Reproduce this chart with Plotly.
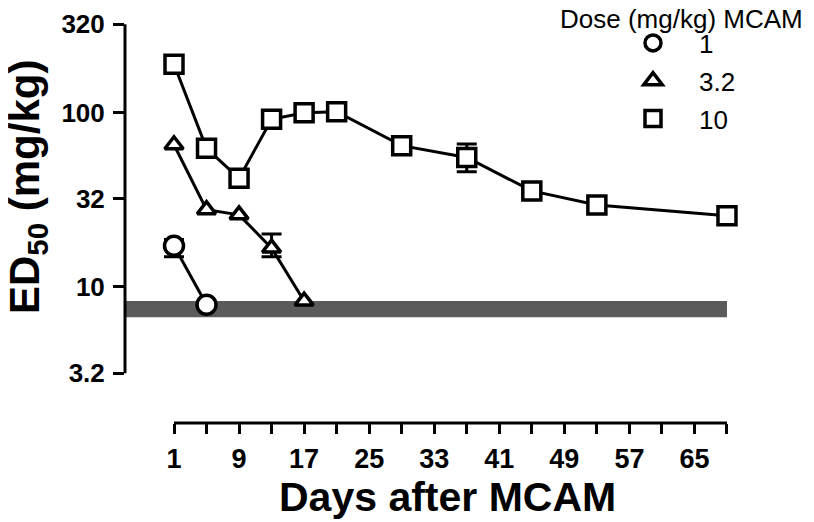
import plotly.graph_objects as go

# ---------------- data ----------------
days_1 = [1, 5]
ed50_1 = [17.2, 7.9]
err_up_1 = [1.5, 0]
err_dn_1 = [2.3, 0]

days_32 = [1, 5, 9, 13, 17]
ed50_32 = [65.3, 27.7, 25.9, 16.7, 8.3]
err_up_32 = [0, 0, 0, 3.4, 0]
err_dn_32 = [0, 0, 0, 1.8, 0]

days_10 = [1, 5, 9, 13, 17, 21, 29, 37, 45, 53, 69]
ed50_10 = [189, 62.3, 41.9, 91.3, 99.6, 101, 64.5, 55.2, 35.5, 29.5, 25.6]
err_up_10 = [0, 0, 0, 0, 0, 0, 0, 10.7, 0, 0, 0]
err_dn_10 = [0, 0, 0, 0, 0, 0, 0, 9.5, 0, 0, 0]

series_names = ["1", "3.2", "10"]
control_band = [6.7, 8.3]          # grey control ED50 range
band_days = [1, 69]

x_tickvals = list(range(1, 70, 4))
x_ticktext = [str(v) if (v - 1) % 8 == 0 else "" for v in x_tickvals]
y_tickvals = [3.2, 10, 32, 100, 320]
y_ticktext = ["3.2", "10", "32", "100", "320"]

# ---------------- layout constants ----------------
W, H = 814, 522
OFF = 8  # page body margin
ML, MR, MT, MB = 117, 62, 2, 107
FONT = "Liberation Sans, Arial, sans-serif"

x_range = [-5.025, 73.06]
y_range = [0.22034, 2.5871]

pw = W - ML - MR
ph = H - MT - MB


def sx(px):
    return (px - OFF - ML) / pw


def sy(py):
    return 1 - (py - OFF - MT) / ph


fig = go.Figure()

series = [
    ("circle", days_1, ed50_1, err_up_1, err_dn_1, 19),
    ("triangle-up", days_32, ed50_32, err_up_32, err_dn_32, 16),
    ("square", days_10, ed50_10, err_up_10, err_dn_10, 18),
]

for (sym, xs, ys, eu, ed, sz), name in zip(series, series_names):
    idx = [i for i in range(len(xs)) if eu[i] > 0 or ed[i] > 0]
    if idx:
        fig.add_trace(go.Scatter(
            x=[xs[i] for i in idx], y=[ys[i] for i in idx],
            mode="markers", marker=dict(size=1, opacity=0),
            error_y=dict(type="data", array=[eu[i] for i in idx],
                         arrayminus=[ed[i] for i in idx],
                         color="black", thickness=3, width=10, symmetric=False),
            showlegend=False, hoverinfo="skip"))
    fig.add_trace(go.Scatter(
        x=xs, y=ys, mode="lines+markers",
        line=dict(color="black", width=3),
        marker=dict(symbol=sym, size=sz, color="white",
                    line=dict(color="black", width=3.5)),
        showlegend=False, name=name))

for (sym, xs, ys, eu, ed, sz), name in zip(series, series_names):
    fig.add_trace(go.Scatter(
        x=[None], y=[None], mode="markers", name=name,
        legendgroup=name,
        marker=dict(symbol=sym, size=sz, color="white",
                    line=dict(color="black", width=3.5)),
        showlegend=True))

shapes = [
    dict(type="rect", xref="x", yref="y", layer="below",
         x0=x_range[0], x1=band_days[1], y0=control_band[0], y1=control_band[1],
         fillcolor="#5b5b5b", line=dict(width=0)),
    dict(type="line", xref="paper", yref="y", x0=0, x1=0,
         y0=y_tickvals[0], y1=y_tickvals[-1],
         line=dict(color="black", width=3)),
    dict(type="line", xref="x", yref="paper", x0=x_tickvals[0], x1=x_tickvals[-1],
         y0=0, y1=0, line=dict(color="black", width=3)),
]

annotations = [
    dict(text="ED<sub>50</sub> (mg/kg)", textangle=-90, xref="paper", yref="paper",
         x=sx(27), y=sy(187), xanchor="center", yanchor="middle",
         showarrow=False, font=dict(family=FONT, size=42, color="black", weight="bold")),
    dict(text="Days after MCAM", xref="paper", yref="paper",
         x=sx(447), y=sy(497), xanchor="center", yanchor="middle",
         showarrow=False, font=dict(family=FONT, size=41, color="black", weight="bold")),
    dict(text="Dose (mg/kg) MCAM", xref="paper", yref="paper",
         x=sx(681.5), y=sy(19), xanchor="center", yanchor="middle",
         showarrow=False, font=dict(family=FONT, size=26, color="black")),
]

fig.update_layout(
    width=W, height=H,
    margin=dict(l=ML, r=MR, t=MT, b=MB, pad=0),
    paper_bgcolor="white", plot_bgcolor="white",
    shapes=shapes, annotations=annotations,
    legend=dict(x=sx(607), y=sy(19.5), xanchor="left", yanchor="top",
                font=dict(family=FONT, size=26, color="black"),
                itemwidth=82, traceorder="grouped", tracegroupgap=1,
                bgcolor="rgba(0,0,0,0)", borderwidth=0),
    xaxis=dict(range=x_range, showline=False, showgrid=False, zeroline=False,
               tickmode="array", tickvals=x_tickvals, ticktext=x_ticktext,
               ticks="outside", ticklen=10, tickwidth=3, tickcolor="black",
               ticklabelstandoff=2,
               tickfont=dict(family=FONT, size=27, color="black", weight="bold")),
    yaxis=dict(type="log", range=y_range, showline=False, showgrid=False, zeroline=False,
               tickmode="array", tickvals=y_tickvals, ticktext=y_ticktext,
               ticks="outside", ticklen=11, tickwidth=3, tickcolor="black",
               ticklabelstandoff=3,
               tickfont=dict(family=FONT, size=26, color="black", weight="bold")),
)

fig.write_html("out.html")
